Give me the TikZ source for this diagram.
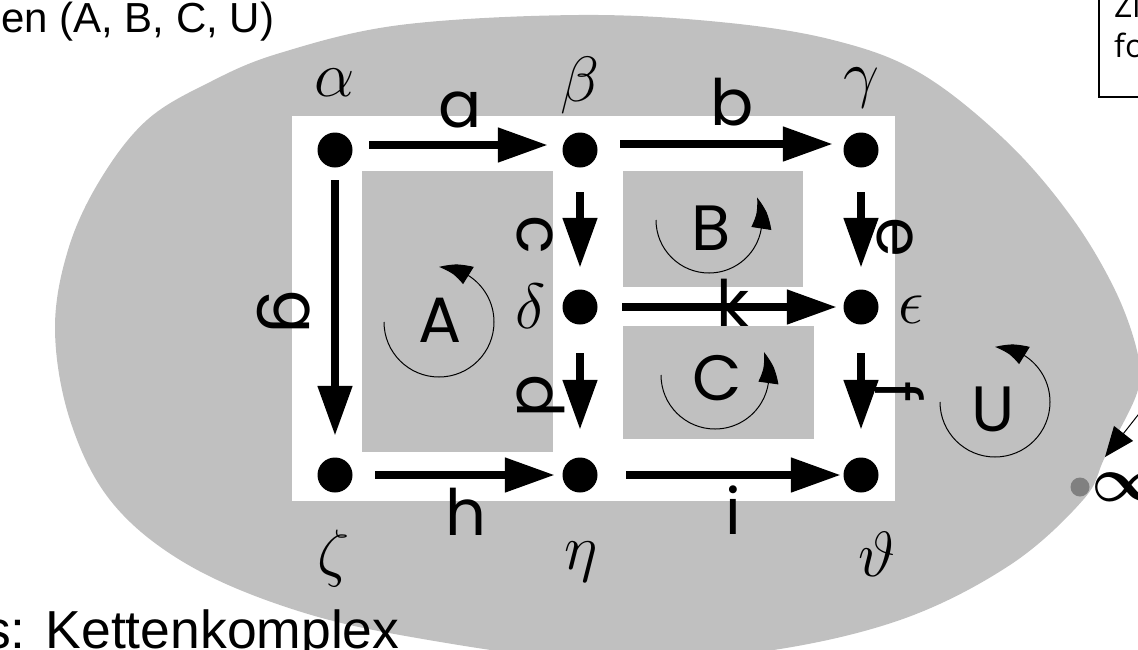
\RequirePackage{fix-cm}
\documentclass[tikz,border=0pt]{standalone}
\usepackage{fontspec}
\newfontfamily\geofont{Poppins}
\newfontfamily\notefont{Liberation Sans}
\newfontfamily\boxfont{Open Sans}
\usetikzlibrary{arrows.meta,bending}
\definecolor{cellgray}{RGB}{192,192,192}
\definecolor{pointgray}{RGB}{128,128,128}

\begin{document}
\begin{tikzpicture}[x=1pt,y=-1pt,
  vertex/.style={circle,fill=black,inner sep=0pt,minimum size=35pt},
  bdry/.style={line width=8pt,-{Triangle[length=50pt,width=33pt]}},
  greek/.style={inner sep=0pt,font=\fontsize{64}{70}\selectfont},
  elbl/.style={inner sep=0pt,font=\geofont\fontsize{64}{70}\selectfont},
  velbl/.style={elbl,rotate=-90},
  orient/.style={line width=1pt,-{Triangle[length=32pt,width=20pt,bend]}},
  boxtext/.style={inner sep=0pt,font=\boxfont\fontsize{32}{40}\selectfont},
  caption/.style={inner sep=0pt,anchor=base west},
]
\useasboundingbox (0,0) rectangle (1138,649);
\clip (0,0) rectangle (1138,649);

% the outer cell U
\fill[cellgray] plot[smooth cycle,tension=0.6] coordinates {
  (55,330) (68,250) (100,180) (147,120) (210,82) (280,53) (400,25)
  (578,15) (720,22) (833,40) (920,73) (1005,140) (1070,215) (1115,290)
  (1138,355) (1137,393) (1105,457) (1083,500) (1010,565) (900,620) (760,652)
  (600,662) (400,635) (280,605) (180,560) (110,500) (70,420)};

% the complex and its 2-cells
\fill[white] (292,116) rectangle (895,501);
\fill[cellgray] (362,171) rectangle (553,452);
\fill[cellgray] (623,171) rectangle (803,287);
\fill[cellgray] (623,326) rectangle (814,439);

% vertices
\node[vertex] (al) at (335,150) {};
\node[vertex] (be) at (580,150) {};
\node[vertex] (ga) at (861,150) {};
\node[vertex] (de) at (580,307) {};
\node[vertex] (ep) at (861,307) {};
\node[vertex] (ze) at (335,475) {};
\node[vertex] (et) at (580,475) {};
\node[vertex] (th) at (861,475) {};

\node[greek] (lal) at (335,83)  {$\alpha$};
\node[greek] (lbe) at (580,85)  {$\beta$};
\node[greek] (lga) at (861,88)  {$\gamma$};
\node[greek] (lde) at (531,306) {$\delta$};
\node[greek] (lep) at (911,310) {$\epsilon$};
\node[greek] (lze) at (334,558) {$\zeta$};
\node[greek] (let) at (581,562) {$\eta$};
\node[greek] (lth) at (877,554) {$\vartheta$};

% oriented edges
\draw[bdry,shorten <=16.5pt,shorten >=14.5pt] ([yshift=5pt]al.east) -- ([yshift=5pt]be.west);
\draw[bdry,shorten <=22.5pt,shorten >=10.5pt] ([yshift=6pt]be.east) -- ([yshift=6pt]ga.west);
\draw[bdry,shorten <=22.5pt,shorten >=7.5pt] (ze.east) -- (et.west);
\draw[bdry,shorten <=28.5pt,shorten >=2.5pt] (et.east) -- (th.west);
\draw[bdry,shorten <=24.5pt,shorten >=6.5pt] (de.east) -- (ep.west);
\draw[bdry,shorten <=12.5pt,shorten >=21.5pt] (al.south) -- (ze.north);
\draw[bdry,shorten <=24.5pt,shorten >=21.5pt] (be.south) -- (de.north);
\draw[bdry,shorten <=24.5pt,shorten >=21.5pt] (ga.south) -- (ep.north);
\draw[bdry,shorten <=28.5pt,shorten >=27.5pt] (de.south) -- (et.north);
\draw[bdry,shorten <=28.5pt,shorten >=27.5pt] (ep.south) -- (th.north);

% edge names
\node[elbl] (ea) at (460,110) {a};
\node[elbl] (eb) at (732,102) {b};
\node[elbl] (eh) at (466,512) {h};
\node[elbl] (ei) at (733,510) {i};
\node[elbl] (ek) at (733,303) {k};
\node[velbl] (ec) at (535,235) {c};
\node[velbl] (eg) at (284,312) {g};
\node[velbl] (ed) at (541,396) {d};
\node[velbl] (ee) at (895,237) {e};
\node[velbl] (ef) at (900,392) {f};

% cell names with their orientation
\node[elbl] (lA) at (440,320) {A};
\node[elbl] (lB) at (711,228) {B};
\node[elbl] (lC) at (717,378) {C};
\node[elbl] (lU) at (993,409) {U};
\draw[orient] ([xshift=-56pt,yshift=-2pt]lA.center) arc[start angle=180,end angle=-90,radius=55];
\draw[orient] ([xshift=-55pt,yshift=8pt]lB.center) arc[start angle=180,end angle=-25,radius=53];
\draw[orient] ([xshift=-56pt,yshift=3pt]lC.center) arc[start angle=180,end angle=-25,radius=54];
\draw[orient] ([xshift=-53pt,yshift=7pt]lU.center) arc[start angle=180,end angle=-90,radius=55];

% point at infinity
\node[circle,fill=pointgray,inner sep=0pt,minimum size=19pt] (inf) at (1080,487) {};
\node[anchor=west,inner sep=0pt,font=\fontsize{64}{70}\selectfont\boldmath] (infl) at (1091,487) {$\infty$};
\coordinate (ptail) at (1171,373);
\coordinate (ptip) at (1105,457);
\draw[line width=1pt,-{Triangle[length=30pt,width=24pt]}] (ptail) -- (ptip);

% note box
\draw[line width=1.3pt] (1099,-5) rectangle (1160,97);
\node[boxtext,anchor=base west] (zi) at (1114,17) {Zi};
\node[boxtext,anchor=base west] (fo) at (1114,57) {fo};

% captions
\node[caption,font=\notefont\fontsize{42}{48}\selectfont] (cap1) at (1,32) {en (A, B, C, U)};
\node[caption,font=\notefont\fontsize{53.5}{60}\selectfont] (cap2) at (-16,648) {s: Kettenkomplex};
\end{tikzpicture}
\end{document}
